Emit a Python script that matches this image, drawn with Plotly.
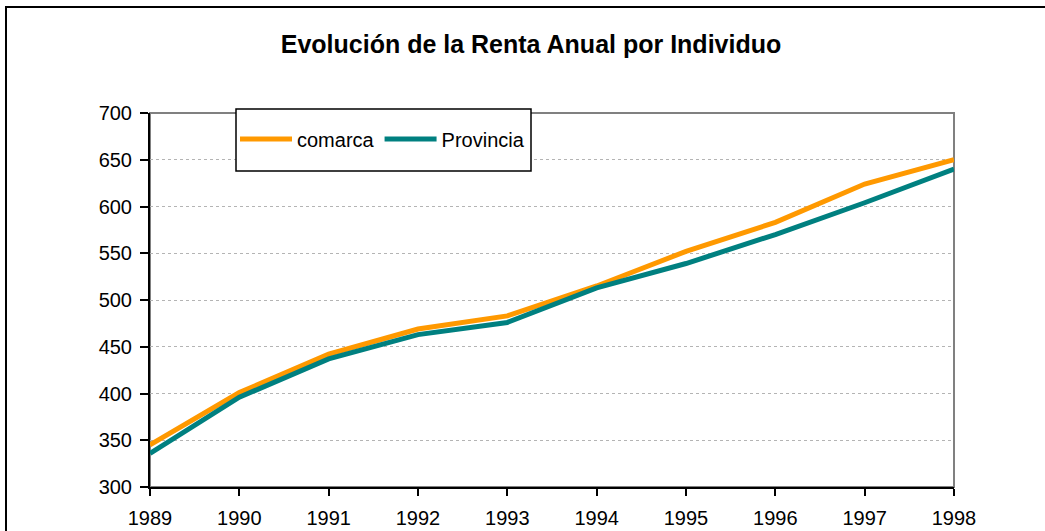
import plotly.graph_objects as go

years = [1989, 1990, 1991, 1992, 1993, 1994, 1995, 1996, 1997, 1998]
comarca = [345, 401, 442, 469, 483, 515, 552, 583, 624, 650]
provincia = [336, 396, 437, 463, 476, 513, 539, 570, 604, 640]
y_ticks = [300, 350, 400, 450, 500, 550, 600, 650, 700]
title_text = "Evolución de la Renta Anual por Individuo"

W, H = 1045, 531
L, R, T, B = 150, 91, 113, 44
pw, ph = W - L - R, H - T - B

def px(x):
    return (x - L) / pw

def py(y):
    return (H - B - y) / ph

fig = go.Figure()
fig.add_trace(go.Scatter(x=years, y=comarca, name="comarca", mode="lines",
                         line=dict(color="#FF9900", width=5)))
fig.add_trace(go.Scatter(x=years, y=provincia, name="Provincia", mode="lines",
                         line=dict(color="#008080", width=5)))

font = "Liberation Sans, Arial, sans-serif"

fig.update_layout(
    width=W, height=H,
    margin=dict(l=L, r=R, t=T, b=B, autoexpand=False),
    paper_bgcolor="white", plot_bgcolor="white",
    font=dict(family=font, size=20, color="black"),
    title=dict(text="<b>" + title_text + "</b>", x=px(531), xref="paper", xanchor="center",
               y=1 - 44 / H, yref="container", yanchor="middle",
               font=dict(size=25, family=font, color="black")),
    showlegend=True,
    legend=dict(orientation="h", x=px(235), y=py(139), xanchor="left", yanchor="middle",
                bgcolor="rgba(0,0,0,0)", borderwidth=0, itemwidth=52,
                font=dict(size=20, family=font, color="black"),
                tracegroupgap=0),
    xaxis=dict(range=[1989, 1998], tickvals=years, ticktext=[str(y) for y in years],
               showgrid=False, zeroline=False, showline=True, linecolor="black", linewidth=2,
               ticks="outside", ticklen=7, tickwidth=1.5, tickcolor="black", automargin=False,
               ticklabelstandoff=5, tickfont=dict(size=20, family=font)),
    yaxis=dict(range=[300, 700], tickvals=y_ticks, showgrid=True, gridcolor="#b4b4b4",
               griddash="dot", gridwidth=1, zeroline=False, showline=True, automargin=False,
               linecolor="black", linewidth=2, ticks="outside", ticklen=8, tickwidth=1.5,
               tickcolor="black", ticklabelstandoff=4, tickfont=dict(size=20, family=font)),
    shapes=[
        dict(type="rect", xref="paper", yref="paper", x0=0, x1=1, y0=0, y1=1,
             line=dict(color="#808080", width=2), layer="below"),
        dict(type="rect", xref="paper", yref="paper", x0=px(236), x1=px(531), y0=py(171), y1=py(109),
             line=dict(color="black", width=1.5), fillcolor="white", layer="above"),
        dict(type="rect", xref="paper", yref="paper", x0=px(6), x1=px(1060), y0=py(545), y1=py(7),
             line=dict(color="black", width=2), layer="above"),
    ],
)

fig.write_html("out.html", config={"displayModeBar": False},
               post_script="document.body.style.margin='0';document.body.style.overflow='hidden';")
